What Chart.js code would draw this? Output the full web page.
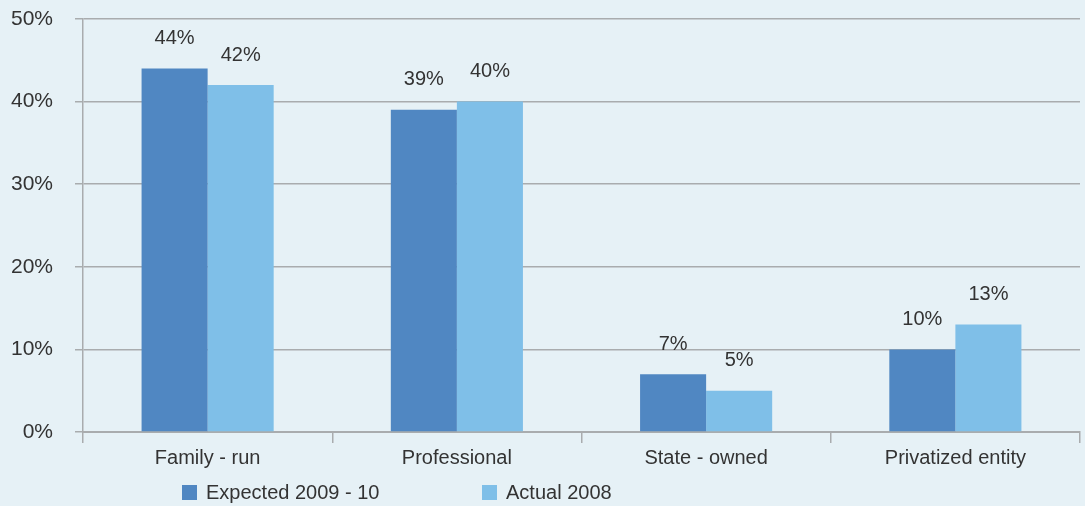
<!DOCTYPE html>
<html>
<head>
<meta charset="utf-8">
<script src="https://cdn.jsdelivr.net/npm/chart.js@4"></script>
<style>
  html, body { margin: 0; padding: 0; background: #e6f1f6; }
  #wrap { position: relative; width: 1085px; height: 506px; }
  #legend { position: absolute; top: 481px; left: 0; font: 20px "Liberation Sans", Arial, sans-serif; color: #333; }
  .item { position: absolute; white-space: nowrap; }
  .box { position: absolute; top: 4px; width: 15px; height: 15px; }
  .lbl { position: absolute; left: 24px; top: 0; }
</style>
</head>
<body>
<div id="wrap">
  <canvas id="chart" width="1085" height="506"></canvas>
  <div id="legend"></div>
</div>
<script>
const categories = ['Family - run', 'Professional', 'State - owned', 'Privatized entity'];
const seriesNames = ['Expected 2009 - 10', 'Actual 2008'];
const expected = [44, 39, 7, 10];
const actual = [42, 40, 5, 13];
const yTicks = [0, 10, 20, 30, 40, 50];

const colors = ['#5087c2', '#7fbfe8'];
const gridColor = '#a9acae';
const textColor = '#333333';
const fontFamily = '"Liberation Sans", Arial, sans-serif';

// value labels above each bar
const barLabels = {
    id: 'barLabels',
    afterDatasetsDraw(chart) {
        const ctx = chart.ctx;
        ctx.save();
        ctx.font = '20px ' + fontFamily;
        ctx.fillStyle = textColor;
        ctx.textAlign = 'center';
        ctx.textBaseline = 'middle';
        chart.data.datasets.forEach((ds, i) => {
            chart.getDatasetMeta(i).data.forEach((bar, j) => {
                ctx.fillText(ds.data[j] + '%', bar.x, bar.y - 30);
            });
        });
        ctx.restore();
    }
};

new Chart(document.getElementById('chart'), {
    type: 'bar',
    data: {
        labels: categories,
        datasets: [
            { label: seriesNames[0], data: expected, backgroundColor: colors[0] },
            { label: seriesNames[1], data: actual, backgroundColor: colors[1] }
        ]
    },
    options: {
        responsive: false,
        animation: false,
        events: [],
        layout: { padding: { top: 19, right: 5, left: 0, bottom: 0 } },
        datasets: { bar: { barPercentage: 1, categoryPercentage: 0.53 } },
        plugins: {
            legend: { display: false },
            tooltip: { enabled: false }
        },
        scales: {
            x: {
                afterFit(scale) { scale.height = 74; },
                grid: { drawOnChartArea: false, color: gridColor, tickLength: 11, lineWidth: 1.5 },
                border: { color: gridColor, width: 2 },
                ticks: { color: textColor, padding: 3, font: { family: fontFamily, size: 20 } }
            },
            y: {
                min: 0,
                max: 50,
                afterFit(scale) {
                    scale.width = 83;
                    scale.paddingTop = 0;
                    scale.paddingBottom = 0;
                },
                afterBuildTicks(scale) { scale.ticks = yTicks.map(v => ({ value: v })); },
                grid: { color: gridColor, tickLength: 8, lineWidth: 1.5 },
                border: { color: gridColor, width: 1.5 },
                ticks: {
                    color: textColor,
                    padding: 22,
                    font: { family: fontFamily, size: 21 },
                    callback: v => v + '%'
                }
            }
        }
    },
    plugins: [barLabels]
});

// legend under the axis
const legendPos = [182, 482];
const legend = document.getElementById('legend');
seriesNames.forEach((name, i) => {
    const item = document.createElement('div');
    item.className = 'item';
    item.style.left = legendPos[i] + 'px';
    const box = document.createElement('div');
    box.className = 'box';
    box.style.background = colors[i];
    const lbl = document.createElement('div');
    lbl.className = 'lbl';
    lbl.textContent = name;
    item.appendChild(box);
    item.appendChild(lbl);
    legend.appendChild(item);
});
</script>
</body>
</html>
